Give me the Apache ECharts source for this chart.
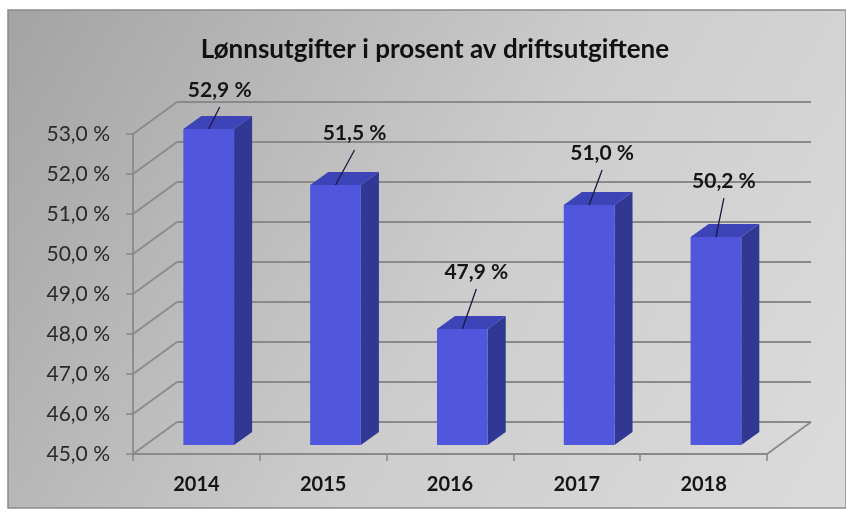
<!DOCTYPE html>
<html>
<head>
<meta charset="utf-8">
<script src="https://cdn.jsdelivr.net/npm/echarts@6/dist/echarts.min.js"></script>
<style>
html,body{margin:0;padding:0;background:#fff;}
#chart{width:846px;height:512px;}
</style>
</head>
<body>
<div id="chart"></div>
<script>
// ---- data ----
const categories = ['2014', '2015', '2016', '2017', '2018'];
const values = [52.9, 51.5, 47.9, 51.0, 50.2];
const gridValues = [45, 46, 47, 48, 49, 50, 51, 52, 53];
const titleText = 'Lønnsutgifter i prosent av driftsutgiftene';

// ---- style (label placement relative to bar top, in px) ----
const labelDx = [11, 19, 14, 13, 8];
const labelDy = [-39, -52, -57, -52, -56];

const DX = 44, DY = -32;        // depth of the 3D floor
const F0 = 0.28, F1 = 0.69;     // bar depth fractions
const BAR_FRAC = 0.40;
const FONT = 'Lato, "Open Sans", "Liberation Sans", sans-serif';

function fmt(v) { return v.toFixed(1).replace('.', ',') + ' %'; }

const chart = echarts.init(document.getElementById('chart'), null, {renderer: 'canvas'});

function renderWall(params, api) {
  const v = api.value(1);
  const cs = params.coordSys;
  const y = api.coord([0, v])[1];
  const x0 = cs.x, x1 = cs.x + cs.width;
  const st = {stroke: '#8a8a8a', lineWidth: 1.8};
  const children = [
    {type: 'line', shape: {x1: x0, y1: y, x2: x0 + DX, y2: y + DY}, style: st},
    {type: 'line', shape: {x1: x0 + DX, y1: y + DY, x2: x1 + DX, y2: y + DY}, style: st}
  ];
  if (v === gridValues[0]) {
    children.push({type: 'line', shape: {x1: x1, y1: y, x2: x1 + DX, y2: y + DY}, style: st});
  }
  return {type: 'group', children: children};
}

function renderBar(params, api) {
  const idx = api.value(0);
  const v = api.value(1);
  const top = api.coord([idx, v]);
  const base = api.coord([idx, gridValues[0]]);
  const cw = api.size([1, 0])[0];
  const w = cw * BAR_FRAC;
  const ox0 = DX * F0, oy0 = DY * F0;
  const ox1 = DX * F1, oy1 = DY * F1;
  const xl = top[0] - w / 2 + ox0, xr = top[0] + w / 2 + ox0;
  const yt = top[1] + oy0, yb = base[1] + oy0;
  const bdx = ox1 - ox0, bdy = oy1 - oy0;
  const cx = top[0] + ox0;
  const i = params.dataIndex;
  const lx = cx + labelDx[i], ly = yt + labelDy[i];
  return {
    type: 'group',
    children: [
      {type: 'polygon', shape: {points: [[xr, yt], [xr + bdx, yt + bdy], [xr + bdx, yb + bdy], [xr, yb]]},
        style: {fill: '#303894'}},
      {type: 'polygon', shape: {points: [[xl, yt], [xr, yt], [xr + bdx, yt + bdy], [xl + bdx, yt + bdy]]},
        style: {fill: '#3d44b8'}},
      {type: 'rect', shape: {x: xl, y: yt, width: xr - xl, height: yb - yt},
        style: {fill: '#5157dc'}},
      {type: 'line', shape: {x1: cx, y1: yt, x2: lx, y2: ly + 17},
        style: {stroke: '#1a1a40', lineWidth: 1.3}},
      {type: 'text', style: {text: fmt(v), x: lx, y: ly, align: 'center', verticalAlign: 'middle',
        font: 'bold 21px ' + FONT, fill: '#151515'}}
    ]
  };
}

const option = {
  animation: false,
  backgroundColor: '#ffffff',
  graphic: [
    {type: 'rect', z: -10, shape: {x: 8, y: 10, width: 838, height: 498},
      style: {
        fill: {type: 'linear', x: 0, y: 0, x2: 1, y2: 1,
          colorStops: [{offset: 0, color: '#a3a3a3'}, {offset: 0.55, color: '#cdcdcd'}, {offset: 1, color: '#dcdcdc'}]},
        stroke: '#8a8a8a', lineWidth: 1.5
      }}
  ],
  title: {
    text: titleText, left: 430, top: 32, textAlign: 'center',
    textStyle: {fontFamily: FONT, fontWeight: 'bold', fontSize: 26, color: '#111'}
  },
  grid: {left: 133, right: 79, top: 134, bottom: 58},
  xAxis: {
    type: 'category', data: categories,
    axisLine: {show: true, lineStyle: {color: '#8a8a8a', width: 1.8}},
    axisTick: {show: true, length: 7, lineStyle: {color: '#8a8a8a', width: 1.6}},
    axisLabel: {margin: 21, fontFamily: FONT, fontWeight: 'bold', fontSize: 20, color: '#151515'}
  },
  yAxis: {
    type: 'value', min: 45, max: 53, interval: 1,
    axisLine: {show: true, lineStyle: {color: '#8a8a8a', width: 1.8}},
    axisTick: {show: true, length: 7, lineStyle: {color: '#8a8a8a', width: 1.6}},
    splitLine: {show: false},
    axisLabel: {margin: 23, fontFamily: FONT, fontSize: 21, color: '#2a2a2a', formatter: fmt}
  },
  series: [
    {type: 'custom', clip: false, z: 1, renderItem: renderWall,
      data: gridValues.map(v => [0, v])},
    {type: 'custom', clip: false, z: 3, renderItem: renderBar,
      data: values.map((v, i) => [i, v])}
  ]
};
chart.setOption(option);
</script>
</body>
</html>
